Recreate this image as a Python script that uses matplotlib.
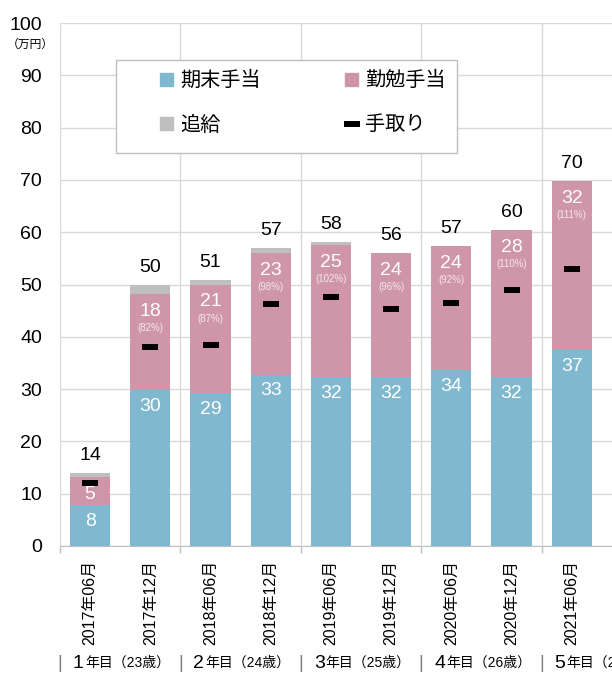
import numpy as np
import matplotlib
matplotlib.use('Agg')
import matplotlib.pyplot as plt
from matplotlib.patches import Patch, Rectangle
from matplotlib.lines import Line2D
from matplotlib import transforms

plt.rcParams['font.family'] = ['Liberation Sans', 'Noto Sans CJK JP', 'DejaVu Sans']

# 支給月
months = ['2017年06月', '2017年12月', '2018年06月', '2018年12月', '2019年06月',
          '2019年12月', '2020年06月', '2020年12月', '2021年06月']
# 期末手当・勤勉手当・追給（万円）
kimatsu = [7.8, 29.8, 29.2, 32.7, 32.3, 32.3, 33.6, 32.3, 37.4]
kinben = [5.4, 18.4, 20.8, 23.3, 25.3, 23.7, 23.7, 28.1, 32.4]
tsuikyu = [0.8, 1.7, 0.9, 1.0, 0.5, 0.0, 0.0, 0.0, 0.0]
# 手取り
tedori = [12.0, 38.0, 38.4, 46.3, 47.7, 45.3, 46.4, 49.0, 52.9]
# 勤勉手当の成績率
kinben_pct = ['', '82%', '87%', '98%', '102%', '96%', '92%', '110%', '111%']
# 年目・年齢
years = ['1', '2', '3', '4', '5']
ages = [23, 24, 25, 26, 27]

BLUE = '#7fb8cf'
PINK = '#cf95a9'
GRAY = '#bfbfbf'
GRID = '#d9d9d9'

fig = plt.figure(figsize=(6.12, 6.8), dpi=100)
ax = fig.add_axes([60 / 612, 134 / 680, 602 / 612, 523 / 680])

x = np.arange(len(months))
k1 = np.array(kimatsu)
k2 = np.array(kinben)
k3 = np.array(tsuikyu)
w = 0.665
ax.bar(x, k1, width=w, color=BLUE, zorder=2)
ax.bar(x, k2, bottom=k1, width=w, color=PINK, zorder=2)
ax.bar(x, k3, bottom=k1 + k2, width=w, color=GRAY, zorder=2)
ax.plot(x, tedori, ls='none', marker='_', ms=11.5, mew=4.3, color='black', zorder=4)

# データラベル
total = k1 + k2 + k3
for i in x:
    ax.annotate(f'{round(k1[i])}', (i, k1[i]), xytext=(0, -11.5), textcoords='offset points',
                ha='center', va='center', color='white', fontsize=14, zorder=3)
    ax.annotate(f'{round(k2[i])}', (i, k1[i] + k2[i]), xytext=(0, -12.5), textcoords='offset points',
                ha='center', va='center', color='white', fontsize=14, zorder=3)
    if kinben_pct[i]:
        ax.annotate(f'({kinben_pct[i]})', (i, k1[i] + k2[i]), xytext=(0, -24.5),
                    textcoords='offset points', ha='center', va='center',
                    color='#f4e8ec', fontsize=7, zorder=3)
    ax.annotate(f'{round(total[i])}', (i, total[i]), xytext=(0, 12.5), textcoords='offset points',
                ha='center', va='center', color='black', fontsize=14, zorder=3)

ax.set_xlim(-0.5, 9.5)
ax.set_ylim(0, 100)
ax.set_yticks(np.arange(0, 101, 10))
ax.tick_params(axis='y', length=0, pad=13, labelsize=14)

ax.set_xticks(x)
ax.set_xticklabels(months, rotation=90, fontsize=11.5)
ax.tick_params(axis='x', which='major', length=0, pad=10)
ax.set_xticks(np.arange(-0.5, 10, 2), minor=True)
ax.tick_params(axis='x', which='minor', length=5, color=GRAY, width=1)

ax.grid(axis='y', which='major', color=GRID, lw=1, zorder=0)
ax.grid(axis='x', which='minor', color=GRID, lw=1, zorder=0)
ax.set_axisbelow(True)
for s in ['top', 'right', 'left']:
    ax.spines[s].set_visible(False)
ax.spines['bottom'].set_color(GRAY)

fig.text(30 / 612, 1 - 45 / 680, '（万円）', ha='center', va='center', fontsize=8.5)

# 凡例
ax.add_patch(Rectangle((56 / 602, (546 - 153) / 523), 341 / 602, 93 / 523,
                       transform=ax.transAxes, facecolor='white', edgecolor=GRAY,
                       lw=1, zorder=5))
handles = [Patch(color=BLUE, label='期末手当'),
           Patch(color=GRAY, label='追給'),
           Patch(color=PINK, label='勤勉手当'),
           Line2D([], [], ls='none', marker='_', ms=11.5, mew=4.3, color='black', label='手取り')]
leg = ax.legend(handles=handles, ncol=2, loc='upper left', frameon=False,
                bbox_to_anchor=((160 - 60) / 602, (546 - 71) / 523),
                borderpad=0, borderaxespad=0, fontsize=14.5,
                handlelength=0.65, handleheight=0.65, handletextpad=0.35,
                columnspacing=4.2, labelspacing=1.25)
leg.set_zorder(6)

# 年目
tr = transforms.blended_transform_factory(ax.transData, fig.transFigure)
yy = 1 - 663 / 680
for k in range(len(years)):
    x0 = 2 * k - 0.5
    ax.text(x0, yy, '|', transform=tr, ha='center', va='center', fontsize=13,
            color='#808080', clip_on=False)
    ax.text(x0 + 13 / 60.2, yy, years[k], transform=tr, ha='left', va='center',
            fontsize=14, clip_on=False)
    ax.text(x0 + 25 / 60.2, yy, f'年目（{ages[k]}歳）', transform=tr, ha='left',
            va='center', fontsize=10, clip_on=False)

fig.savefig('out.png', dpi=100)
